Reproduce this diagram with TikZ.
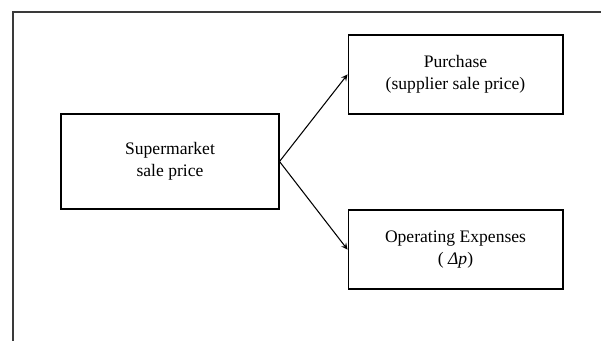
\documentclass[tikz,border=0pt]{standalone}
\usepackage{fontspec}
\setmainfont{Liberation Serif}
\usetikzlibrary{arrows, positioning}
\definecolor{marco}{HTML}{3A3A3A}
\tikzset{
  caja/.style={rectangle, draw=black, line width=0.6pt, align=center, inner sep=0pt,
               font=\fontsize{10}{12.5}\selectfont},
  cajag/.style={caja, minimum width=4.36cm, minimum height=1.9cm},
  cajac/.style={caja, minimum width=4.3cm, minimum height=1.58cm},
  arrow/.style={->,>=stealth,line width=0.6pt}
}
\begin{document}
\begin{tikzpicture}[x=0.02cm, y=-0.02cm]
  \useasboundingbox (0,0) rectangle (601,341);
  % marco abierto
  \draw [line width=1pt, color=marco] (13,341) -- (13,12) -- (601,12);
  % cajas
  \node (precio) [cajag] at (170,161.5) {Supermarket\\ sale price};
  \node (compra) [cajac] at (455.5,74.5) {Purchase\\ (supplier sale price)};
  \node (gastos) [cajac] at (455.5,249.5) {Operating Expenses\\ ( \textit{Δp})};
  \draw [arrow] (precio.east) -- (compra.west);
  \draw [arrow] (precio.east) -- (gastos.west);
\end{tikzpicture}
\end{document}
